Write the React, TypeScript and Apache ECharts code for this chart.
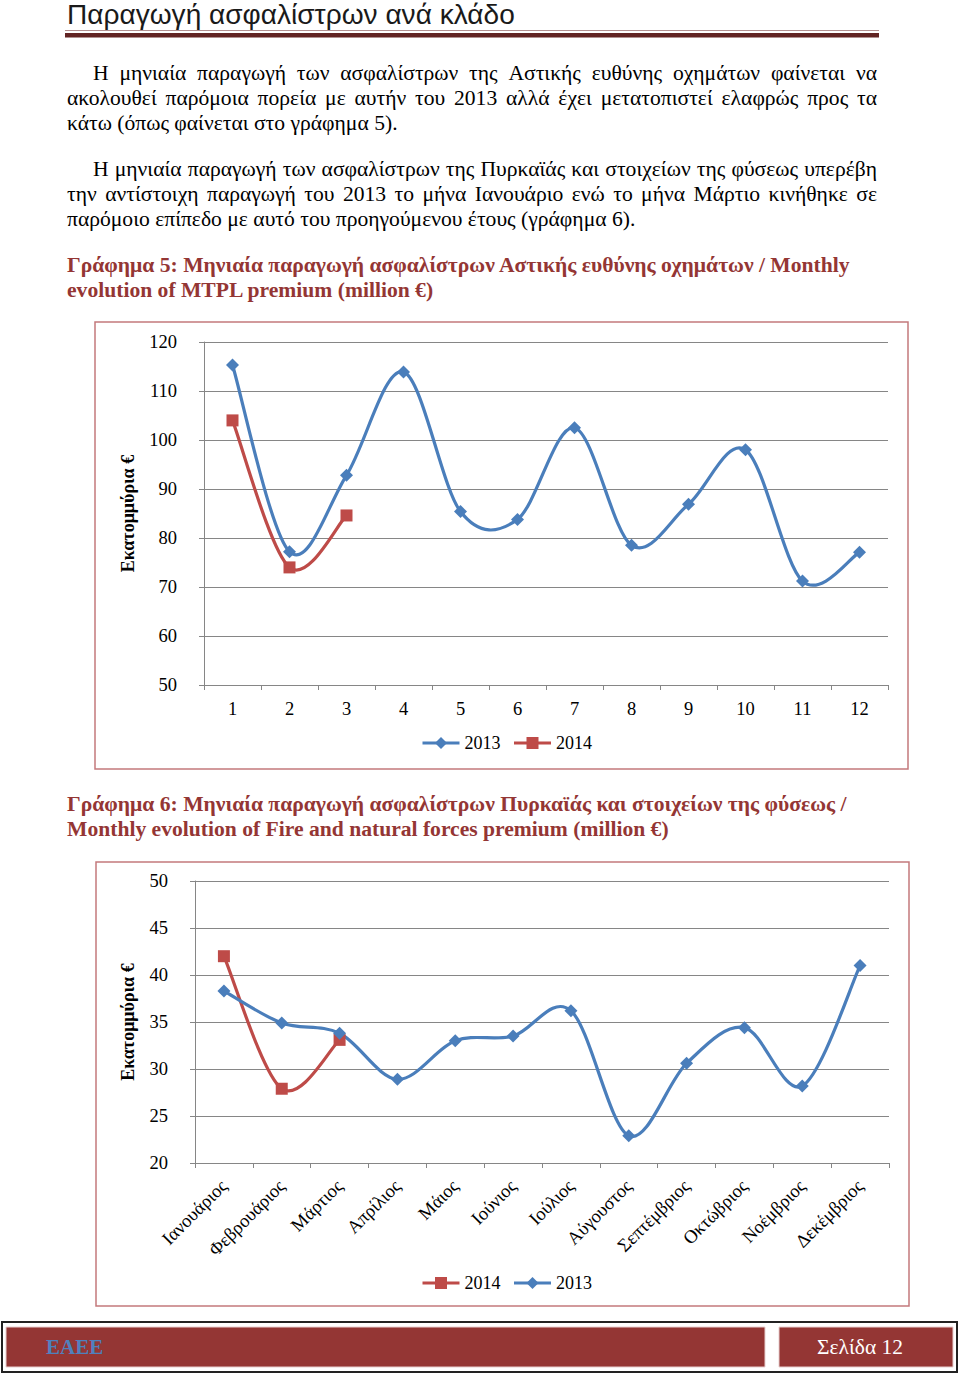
import React, { useEffect, useRef } from 'react';
import * as echarts from 'echarts';

// ---------- data ----------
const monthNums = ['1', '2', '3', '4', '5', '6', '7', '8', '9', '10', '11', '12'];
const monthNames = ['Ιανουάριος', 'Φεβρουάριος', 'Μάρτιος', 'Απρίλιος', 'Μάιος', 'Ιούνιος', 'Ιούλιος', 'Αύγουστος', 'Σεπτέμβριος', 'Οκτώβριος', 'Νοέμβριος', 'Δεκέμβριος'];
const mtpl2013 = [115.3, 77.2, 92.8, 113.9, 85.4, 83.8, 102.5, 78.5, 86.9, 98.0, 71.2, 77.1];
const mtpl2014 = [104.0, 74.0, 84.6];
const fire2013 = [38.3, 34.9, 33.8, 28.9, 33.0, 33.5, 36.2, 22.9, 30.6, 34.4, 28.2, 41.0];
const fire2014 = [42.0, 27.9, 33.1];
const mtplAxis = { min: 50, max: 120, step: 10 };
const fireAxis = { min: 20, max: 50, step: 5 };
const legendMtpl = ['2013', '2014'];
const legendFire = ['2014', '2013'];

// ---------- texts ----------
const pageTitle = 'Παραγωγή ασφαλίστρων ανά κλάδο';
const para1 = [
  'Η μηνιαία παραγωγή των ασφαλίστρων της Αστικής ευθύνης οχημάτων φαίνεται να',
  'ακολουθεί παρόμοια πορεία με αυτήν του 2013 αλλά έχει μετατοπιστεί ελαφρώς προς τα',
  'κάτω (όπως φαίνεται στο γράφημα 5).',
];
const para2 = [
  'Η μηνιαία παραγωγή των ασφαλίστρων της Πυρκαϊάς και στοιχείων της φύσεως υπερέβη',
  'την αντίστοιχη παραγωγή του 2013 το μήνα Ιανουάριο ενώ το μήνα Μάρτιο κινήθηκε σε',
  'παρόμοιο επίπεδο με αυτό του προηγούμενου έτους (γράφημα 6).',
];
const caption5 = [
  'Γράφημα 5: Μηνιαία παραγωγή ασφαλίστρων Αστικής ευθύνης οχημάτων / Monthly',
  'evolution of MTPL premium (million €)',
];
const caption6 = [
  'Γράφημα 6: Μηνιαία παραγωγή ασφαλίστρων Πυρκαϊάς και στοιχείων της φύσεως /',
  'Monthly evolution of Fire and natural forces premium (million €)',
];
const yName = 'Εκατομμύρια €';
const footerLeft = 'ΕΑΕΕ';
const footerRight = 'Σελίδα 12';

// ---------- styles ----------
const SERIF = '"Liberation Serif", "Times New Roman", serif';
const BLUE = '#4a7ebb';
const RED = '#be4b48';
const MAROON = '#943634';
const AXIS = '#868686';
const TEXT_SIZE = 21.6;
const TICK_SIZE = 18.5;

let measureCtx: CanvasRenderingContext2D | null = null;
function measure(text: string, size: number, weight: string, family: string) {
  if (!measureCtx) measureCtx = document.createElement('canvas').getContext('2d');
  measureCtx!.font = `${weight} ${size}px ${family}`;
  return measureCtx!.measureText(text).width;
}

function textEl(text: string, x: number, y: number, size: number, weight: string, fill: string, family = SERIF) {
  return {
    type: 'text',
    x,
    y,
    silent: true,
    style: {
      text,
      fontSize: size,
      fontWeight: weight,
      fontFamily: family,
      fill,
      textAlign: 'left',
      textVerticalAlign: 'middle',
      align: 'left',
      verticalAlign: 'middle',
    },
  };
}

function justifiedLine(text: string, x0: number, x1: number, y: number, size: number, weight: string, fill: string) {
  const words = text.split(' ');
  const widths = words.map((w) => measure(w, size, weight, SERIF));
  const total = widths.reduce((a, b) => a + b, 0);
  const gap = (x1 - x0 - total) / (words.length - 1);
  const els: any[] = [];
  let x = x0;
  words.forEach((w, i) => {
    els.push(textEl(w, x, y, size, weight, fill));
    x += widths[i] + gap;
  });
  return els;
}

function paragraph(lines: string[], yStart: number, lineH: number, indentX: number, leftX: number, rightX: number, size: number) {
  const els: any[] = [];
  lines.forEach((ln, i) => {
    const x0 = i === 0 ? indentX : leftX;
    const y = yStart + i * lineH;
    if (i < lines.length - 1) els.push(...justifiedLine(ln, x0, rightX, y, size, 'normal', '#000'));
    else els.push(textEl(ln, x0, y, size, 'normal', '#000'));
  });
  return els;
}

function curveSeries(values: number[], axisIndex: number, color: string) {
  return {
    type: 'custom',
    xAxisIndex: axisIndex,
    yAxisIndex: axisIndex,
    silent: true,
    z: 2,
    data: values.map((v, i) => [i, v]),
    renderItem: (params: any, api: any) => {
      if (params.dataIndex !== 0) return null;
      const pts = values.map((v, i) => api.coord([i, v]));
      let d = `M${pts[0][0]},${pts[0][1]}`;
      for (let i = 0; i < pts.length - 1; i++) {
        const p0 = pts[i - 1] || pts[i];
        const p1 = pts[i];
        const p2 = pts[i + 1];
        const p3 = pts[i + 2] || pts[i + 1];
        const c1x = p1[0] + (p2[0] - p0[0]) / 6;
        const c1y = p1[1] + (p2[1] - p0[1]) / 6;
        const c2x = p2[0] - (p3[0] - p1[0]) / 6;
        const c2y = p2[1] - (p3[1] - p1[1]) / 6;
        d += ` C${c1x},${c1y} ${c2x},${c2y} ${p2[0]},${p2[1]}`;
      }
      return {
        type: 'path',
        shape: { pathData: d },
        style: { fill: 'none', stroke: color, lineWidth: 3.2, lineJoin: 'round', lineCap: 'round' },
      };
    },
  };
}

function markerSeries(name: string, values: number[], axisIndex: number, color: string, symbol: string, size: number) {
  return {
    type: 'line',
    name,
    xAxisIndex: axisIndex,
    yAxisIndex: axisIndex,
    data: values,
    symbol,
    symbolSize: size,
    showSymbol: true,
    showAllSymbol: true,
    z: 3,
    itemStyle: { color, borderWidth: 0 },
    lineStyle: { color, width: 3, opacity: 0 },
  };
}

function valueAxis(gridIndex: number, ax: { min: number; max: number; step: number }, nameGap: number) {
  return {
    type: 'value',
    gridIndex,
    min: ax.min,
    max: ax.max,
    interval: ax.step,
    name: yName,
    nameLocation: 'middle',
    nameGap,
    nameRotate: 90,
    nameTextStyle: { fontFamily: SERIF, fontSize: 18, fontWeight: 'bold', color: '#000' },
    axisLine: { show: true, lineStyle: { color: AXIS, width: 1 } },
    axisTick: { show: true, length: 5, lineStyle: { color: AXIS } },
    splitLine: { show: true, lineStyle: { color: AXIS, width: 1 } },
    axisLabel: { fontFamily: SERIF, fontSize: TICK_SIZE, color: '#000', margin: 27 },
  };
}

function categoryAxis(gridIndex: number, data: string[], rotate: number, margin: number) {
  return {
    type: 'category',
    gridIndex,
    data,
    boundaryGap: true,
    axisLine: { show: true, lineStyle: { color: AXIS, width: 1 } },
    axisTick: { show: true, length: 5, interval: 0, lineStyle: { color: AXIS } },
    splitLine: { show: false },
    axisLabel: { fontFamily: SERIF, fontSize: TICK_SIZE, color: '#000', margin, rotate, interval: 0 },
  };
}

function legend(data: string[], top: number) {
  return {
    data,
    left: 421,
    top,
    padding: 0,
    orient: 'horizontal',
    itemWidth: 37,
    itemHeight: 15,
    itemGap: 12,
    selectedMode: false,
    textStyle: { fontFamily: SERIF, fontSize: 18, color: '#000' },
    lineStyle: { width: 3, opacity: 1 },
  };
}

export default function App() {
  const ref = useRef<HTMLDivElement>(null);

  useEffect(() => {
    document.body.style.margin = '0';
    const chart = echarts.init(ref.current!, null, { renderer: 'svg' });

    // title fitted to reference width
    const titleFamily = '"Liberation Sans", Arial, sans-serif';
    const titleSize = 26 * 448 / measure(pageTitle, 26, 'normal', titleFamily);

    const graphics: any[] = [
      textEl(pageTitle, 67, 14, titleSize, 'normal', '#1a1a1a', titleFamily),
      { type: 'line', silent: true, shape: { x1: 65, y1: 30.5, x2: 879, y2: 30.5 }, style: { stroke: '#b39090', lineWidth: 1 } },
      { type: 'rect', silent: true, shape: { x: 65, y: 33, width: 814, height: 4.5 }, style: { fill: '#622423' } },
      ...paragraph(para1, 73, 25, 93, 67, 877, TEXT_SIZE),
      ...paragraph(para2, 169, 25, 93, 67, 877, TEXT_SIZE),
      textEl(caption5[0], 67, 265, TEXT_SIZE, 'bold', MAROON),
      textEl(caption5[1], 67, 290, TEXT_SIZE, 'bold', MAROON),
      textEl(caption6[0], 67, 804, TEXT_SIZE, 'bold', MAROON),
      textEl(caption6[1], 67, 829, TEXT_SIZE, 'bold', MAROON),
      { type: 'rect', silent: true, z: -1, shape: { x: 95, y: 322, width: 813, height: 447 }, style: { fill: 'none', stroke: '#c4797c', lineWidth: 1.5 } },
      { type: 'rect', silent: true, z: -1, shape: { x: 96, y: 862, width: 813, height: 444 }, style: { fill: 'none', stroke: '#c4797c', lineWidth: 1.5 } },
      // footer
      { type: 'rect', silent: true, shape: { x: 2, y: 1322, width: 955, height: 50 }, style: { fill: '#fff', stroke: '#222', lineWidth: 2 } },
      { type: 'rect', silent: true, shape: { x: 6, y: 1327, width: 759, height: 40 }, style: { fill: MAROON, stroke: '#e8cfcf', lineWidth: 1 } },
      { type: 'rect', silent: true, shape: { x: 779, y: 1327, width: 174, height: 40 }, style: { fill: MAROON, stroke: '#e8cfcf', lineWidth: 1 } },
      textEl(footerLeft, 46, 1347, 21, 'bold', '#4f81bd'),
      textEl(footerRight, 817, 1347, 21.5, 'normal', '#fff'),
    ];

    const option: any = {
      animation: false,
      backgroundColor: '#fff',
      grid: [
        { left: 204, top: 342, width: 684, height: 343, containLabel: false },
        { left: 195, top: 881, width: 694, height: 282, containLabel: false },
      ],
      xAxis: [categoryAxis(0, monthNums, 0, 14), categoryAxis(1, monthNames, 45, 20)],
      yAxis: [valueAxis(0, mtplAxis, 67), valueAxis(1, fireAxis, 58)],
      legend: [legend(legendMtpl, 734), legend(legendFire, 1274)],
      series: [
        curveSeries(mtpl2013, 0, BLUE),
        curveSeries(mtpl2014, 0, RED),
        markerSeries('2013', mtpl2013, 0, BLUE, 'diamond', 13),
        markerSeries('2014', mtpl2014, 0, RED, 'rect', 12),
        curveSeries(fire2014, 1, RED),
        curveSeries(fire2013, 1, BLUE),
        markerSeries('2014', fire2014, 1, RED, 'rect', 12),
        markerSeries('2013', fire2013, 1, BLUE, 'diamond', 13),
      ],
      graphic: { elements: graphics },
    };
    chart.setOption(option);
    return () => chart.dispose();
  }, []);

  return <div ref={ref} style={{ width: 960, height: 1376, background: '#fff' }} />;
}
